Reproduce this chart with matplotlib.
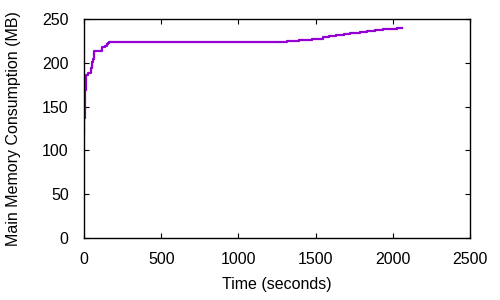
import matplotlib.pyplot as plt

plt.rcParams["font.family"] = ["Liberation Sans", "DejaVu Sans"]

# memory samples (seconds, MB)
time_s = [0, 0, 8, 8, 13, 28, 43, 47, 52, 56, 63, 119, 119, 136, 147, 158, 164,
          1313, 1395, 1479, 1550, 1587, 1630, 1686, 1723, 1788, 1831, 1885,
          1939, 1982, 2025, 2058]
memory_mb = [120, 137, 137, 169, 186, 188, 191, 194, 201, 204, 213.5, 213.5, 217.7,
             219, 221, 223, 224, 225, 226, 227.5, 229, 230.6, 231.7, 233, 233.6,
             235, 236, 237, 238, 239, 240, 240]

x_ticks = [0, 500, 1000, 1500, 2000, 2500]
y_ticks = [0, 50, 100, 150, 200, 250]

fig = plt.figure(figsize=(5, 3), dpi=100)
ax = fig.add_axes([0.168, 0.207, 0.772, 0.730])

ax.plot(time_s, memory_mb, drawstyle="steps-post", color="#9400d3", linewidth=1.6)

ax.set_xlim(0, 2500)
ax.set_ylim(0, 250)
ax.set_xticks(x_ticks)
ax.set_yticks(y_ticks)
ax.tick_params(direction="in", top=True, right=True, length=3.5, width=0.8,
               labelsize=11.5)
ax.tick_params(axis="x", pad=10)
ax.tick_params(axis="y", pad=11)
for spine in ax.spines.values():
    spine.set_linewidth(1.0)

ax.set_xlabel("Time (seconds)", fontsize=11.5, labelpad=7)
ax.set_ylabel("Main Memory Consumption (MB)", fontsize=11.5, labelpad=15)

fig.savefig("out.png", dpi=100)
